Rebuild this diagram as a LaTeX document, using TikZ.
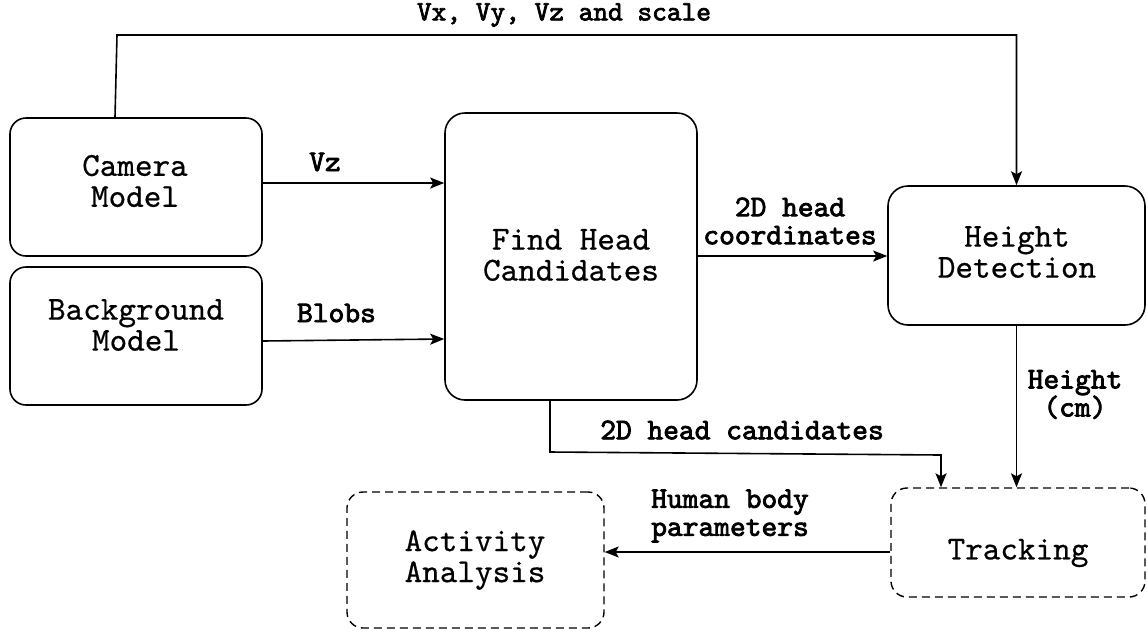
\documentclass[tikz,border=0pt]{standalone}
\usepackage{fontspec}
\newfontfamily\labfont{lmmono10-regular.otf}[FakeBold=2.6]
\newfontfamily\boxfont{lmmono10-regular.otf}[FakeBold=0.6]
\usetikzlibrary{arrows.meta}
\begin{document}
\begin{tikzpicture}[x=1pt,y=-1pt,
  box/.style={draw, line width=1.6pt, rounded corners=16pt, inner sep=0pt},
  dbox/.style={box, line width=1.4pt, dash pattern=on 8pt off 5pt},
  txt/.style={font=\fontsize{33.5}{31}\selectfont\boxfont, align=center, inner sep=0pt},
  lab/.style={font=\fontsize{30}{28}\selectfont\labfont, align=center, inner sep=0pt},
  conn/.style={line width=1.6pt, -{Stealth[length=14pt,width=11pt,inset=3pt]}}]
\useasboundingbox (0,0) rectangle (1147,630);
% boxes
\node[box, minimum width=252pt, minimum height=138pt] (cam) at (136,187) {};
\node[box, minimum width=252pt, minimum height=138pt] (bg) at (136,336) {};
\node[box, rounded corners=20pt, minimum width=252pt, minimum height=287pt] (fh) at (571,256.5) {};
\node[box, rounded corners=20pt, minimum width=257pt, minimum height=139pt] (hd) at (1016.5,255.5) {};
\node[dbox, minimum width=254pt, minimum height=109pt] (tr) at (1018,542.5) {};
\node[dbox, minimum width=257pt, minimum height=136pt] (aa) at (475.5,560) {};
% box texts
\node[txt] (camt) at (135,181) {Camera\\Model};
\node[txt] (bgt) at (136,325) {Background\\Model};
\node[txt] (fht) at (571,255) {Find Head\\Candidates};
\node[txt] (hdt) at (1017,252) {Height\\Detection};
\node[txt] (trt) at (1018,553) {Tracking};
\node[txt] (aat) at (475,560) {Activity\\Analysis};
% connectors
\coordinate (c1) at (117,35);
\draw[conn] ([xshift=-21pt]cam.north) -- (c1) -| (hd.north);
\draw[conn] (cam.east |- {(0,183)}) -- (fh.west |- {(0,183)});
\draw[conn] (bg.east |- {(0,341)}) -- (fh.west |- {(0,339)});
\draw[conn] (fh.east |- {(0,256)}) -- (hd.west |- {(0,256)});
\draw[conn] (hd.south) -- (tr.north -| hd.south);
\coordinate (c2) at (550,452);
\coordinate (c3) at (941,455);
\draw[conn] (fh.south -| c2) -- (c2) -- (c3) -- (tr.north -| c3);
\draw[conn] (tr.west |- {(0,552)}) -- (aa.east |- {(0,552)});
% labels
\node[lab, font=\fontsize{28}{28}\selectfont\labfont] (l1) at (564,15) {Vx, Vy, Vz and scale};
\node[lab] (l2) at (325,162) {Vz};
\node[lab] (l3) at (336.5,313) {Blobs};
\node[lab] (l4) at (790,221) {2D head\\coordinates};
\node[lab] (l5) at (1075,394.5) {Height\\(cm)};
\node[lab] (l6) at (742,430) {2D head candidates};
\node[lab] (l7) at (730,516) {Human body\\parameters};
\end{tikzpicture}
\end{document}
